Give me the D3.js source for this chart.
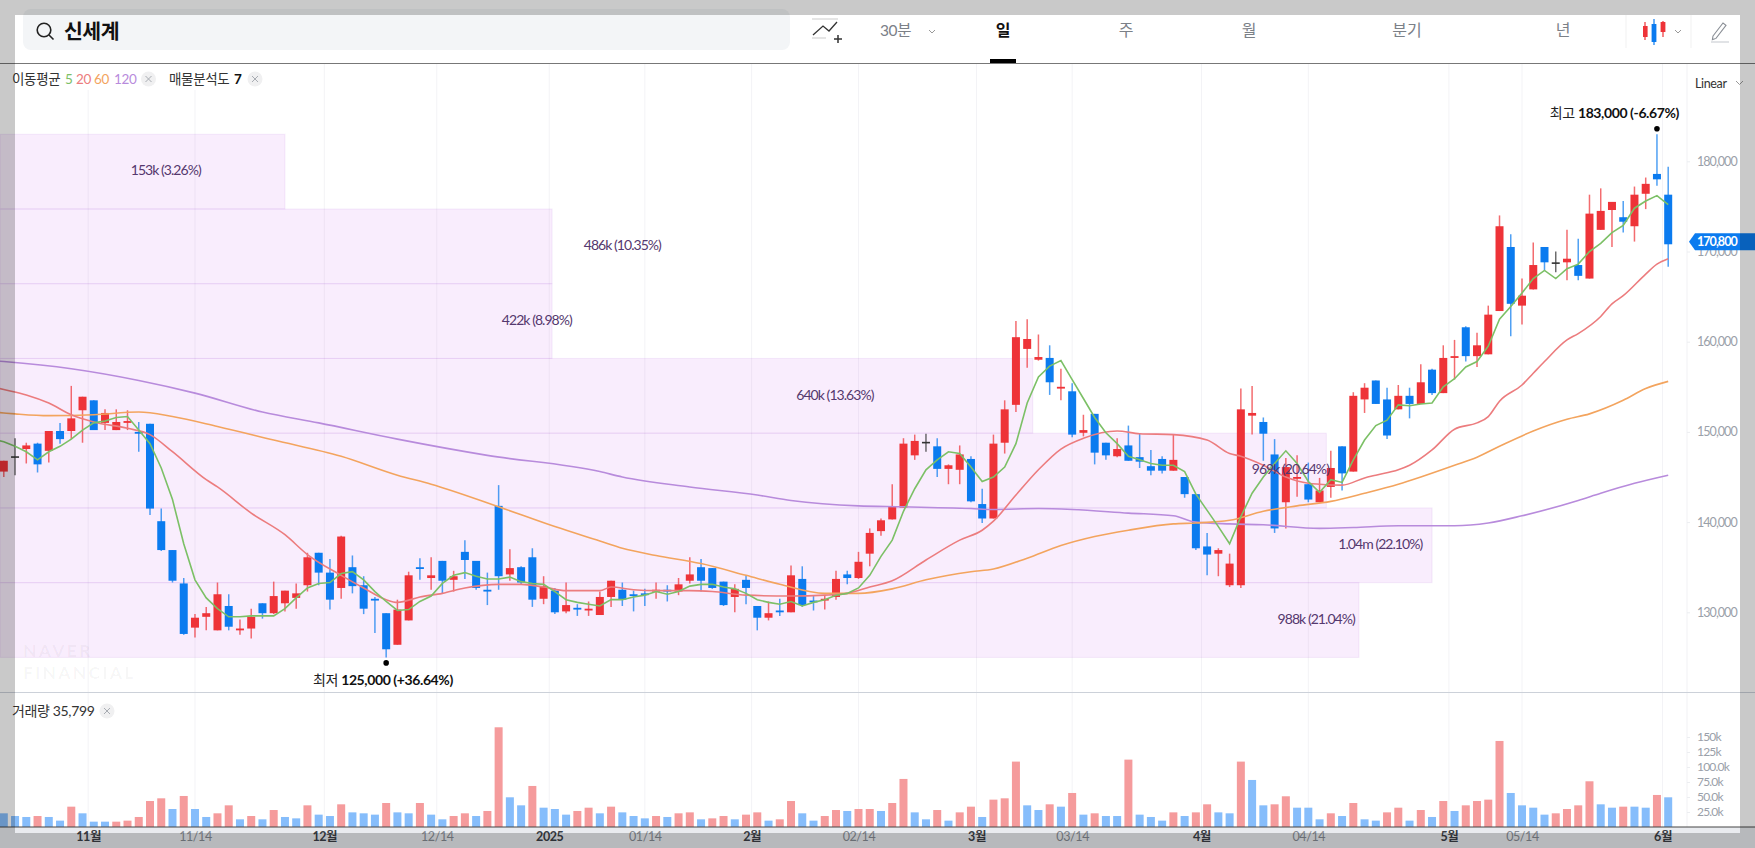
<!DOCTYPE html>
<html><head><meta charset="utf-8"><title>신세계</title>
<script src="https://d3js.org/d3.v7.min.js"></script>
<style>
html,body{margin:0;padding:0;background:#fff;overflow:hidden}
svg{display:block}
text{font-family:Lato,"Noto Sans CJK KR",sans-serif}
</style></head><body>
<svg id="c" width="1755" height="848"></svg>
<script>
const opens=[145600,147300,148100,148700,147900,150100,150100,152400,153500,151000,
150200,151000,150000,150900,140100,136900,133200,128300,129500,128000,
130700,128000,128200,131000,129900,131000,131600,133000,136600,134400,
132700,135000,133000,131500,129900,126400,129100,135000,133800,135700,
133600,136700,135700,132500,141800,134200,135000,136100,131500,132400,
130100,130500,130200,129700,131700,132500,132000,132100,132300,132500,
132300,133500,135000,134900,133400,131700,133600,130700,129400,130200,
130000,133700,131300,131300,131700,134200,133800,136500,139000,140300,
141600,147400,148900,148400,145900,145800,147000,142000,140400,148800,
153000,159200,158000,158200,154800,154500,149900,152000,148800,147300,
148500,147200,146200,147000,145700,145000,143100,137300,136500,133000,
133000,151800,151100,147500,142200,144800,144200,142200,143900,148400,
145600,153600,155700,153600,152500,154000,153100,156900,154300,158200,
161600,158400,158600,163400,170500,164000,165800,170500,168800,168800,
168500,167000,172400,174600,173800,172800,176400,178600,176300];
const highs=[146800,149300,148800,148800,150100,151000,155100,153900,153500,152500,
152500,152400,151100,150900,141500,136900,133800,129800,130600,133300,
132000,129200,130400,131000,133400,132400,133200,136600,136600,135900,
138500,136300,134000,131700,129900,131400,134500,136000,136100,135700,
134600,138000,135700,134400,144100,137000,135100,137100,134000,132700,
133300,130900,131200,132300,133500,133300,132400,132600,133300,133000,
133800,136100,135900,134900,133400,133100,134100,130700,131200,131500,
135200,135100,131800,131900,134600,134600,136700,139300,140400,144200,
149300,149700,149800,149300,146400,148500,147300,143700,149700,153500,
162300,162500,160800,159600,157000,155400,151900,152000,148800,149300,
150700,149800,148000,147300,149700,145000,143100,138800,137100,136500,
154800,155100,151600,149200,147100,147400,146600,144900,147900,148400,
154400,155400,155700,154900,155200,154900,157500,157000,159600,160200,
161700,161000,164000,174000,171900,167000,171000,170500,170000,172400,
171400,176300,177000,175500,175600,177200,178200,183000,179400];
const lows=[145000,145200,146500,145500,146600,148700,149200,148800,150200,150200,
150200,150200,147800,140800,136800,133300,127500,127200,128000,128000,
128000,127500,127100,129300,129800,130100,130400,132300,133000,130300,
131500,132100,129800,127700,125000,126400,129100,133600,132500,132100,
132300,133700,132500,130800,132500,133500,133100,130600,130900,129800,
129900,129600,129600,129700,130600,130700,130100,130700,131500,131200,
131900,133200,132300,132600,130700,130000,130900,128000,129100,129600,
130000,130600,130200,130300,131400,133100,133700,135100,138500,140300,
141600,146900,147800,145000,144200,144200,142200,139900,140400,147600,
152200,157100,157900,154100,153500,149400,149500,146400,146900,147200,
146800,146000,145200,145400,145700,142700,136900,134100,134000,132800,
132700,149700,146800,138800,139300,142800,142200,142200,142700,143500,
145600,152100,153100,149200,152500,151500,153100,154100,154300,155800,
157800,157200,158600,163400,160600,161900,165800,167900,167700,166800,
166800,167000,172400,170500,172100,171100,174700,177300,168300];
const closes=[146800,147300,148500,146400,150100,149200,151500,153900,150200,152100,
151100,151200,149800,141500,136900,133500,127600,129400,129900,132000,
128400,128200,129500,129900,131800,132400,132100,136100,134400,131400,
138400,132900,130400,131300,125900,130300,134100,134800,134100,133500,
134000,135800,132700,132300,134000,134900,133300,131400,132900,130000,
130800,130300,130400,131700,133500,131400,131800,131900,132500,132300,
133100,134200,133500,132700,130800,132600,132700,129400,129900,130000,
134100,130800,131100,131500,133700,133800,135600,138800,140200,141700,
148700,149000,148900,145900,146300,147500,142300,140400,148700,152500,
160500,160300,158300,155500,155000,149700,150200,147700,147400,148100,
146800,146700,145700,145700,146900,143100,137100,136400,136900,135400,
152500,152100,149800,139300,146100,145000,142500,143500,146000,145400,
154000,154900,153100,149600,154000,153100,155500,154300,158200,158400,
158400,159600,163000,172800,164200,165100,168500,168800,168800,169200,
167300,174200,174500,175500,173300,176300,177500,178000,170800];
const ma5=[149200,148900,148400,147800,146900,147800,148400,149200,150200,151000,151200,
151600,151700,150200,148700,146000,142500,137600,133600,131600,130400,
129500,129500,129600,129600,129600,130400,131600,132700,133200,133300,
134300,134500,133600,132300,131200,130200,130300,131200,131800,133200,
134100,134400,134000,133700,133700,133900,133400,133200,133100,132300,
131400,131100,130900,130700,131400,131400,131700,131900,132300,132000,
132300,132900,133100,133100,132800,132600,132100,131400,131100,130900,
131200,130700,131100,131400,131900,132100,132700,134100,136200,138000,
141200,143700,145800,146900,147800,147600,146100,144500,145000,146100,
148700,153200,156100,157300,157900,155800,153700,151600,149900,148700,
147300,146900,146500,146300,146300,145600,143100,141300,139500,137600,
140600,143200,145000,146500,147900,146500,144500,143300,144700,144400,
146900,149100,150700,151300,153000,152900,153100,153200,155000,155900,
157200,157800,159500,162500,163900,165400,167000,167900,167000,168100,
168600,170000,170900,172100,172900,174800,175600,176200,175200];
const ma20Days=[-1,0,2,4,6,8,11,13,15,18,19,22,25,27,30,32,34,35,37,39,41,44,46,48,50,53,54,56,58,61,63,66,70,73,75,77,79,82,85,87,88,90,92,94,96,99,101,104,107,109,110,112,114,116,117,119,121,122,124,125,127,129,131,132,133,135,136,137,139,140,142,143,144,146,147,148];
const ma20=[155000,154700,154100,153200,151900,151100,150400,149700,147800,144700,143900,141000,138600,136400,134100,132700,131400,131100,131700,132100,132700,133100,133100,132800,132400,132400,132800,132500,132400,132400,132300,131900,131800,131900,132100,132800,133500,135800,138000,139100,140100,143000,145800,148100,149300,150100,149800,149700,149100,147600,147300,146300,145000,144300,144200,144100,144900,145200,145800,146300,148000,150300,151000,151700,153400,155200,156500,157800,160200,160900,162800,164200,165100,167500,168600,169200];
const ma60Days=[-1,0,1,4,8,12,15,19,24,30,35,38,44,49,53,55,58,62,66,69,73,76,79,82,86,88,91,94,97,100,104,106,109,112,115,118,121,124,126,129,131,133,136,139,141,144,146,148];
const ma60=[152200,152100,152000,151800,151900,152200,151700,150600,149100,147300,145200,144200,141700,139500,137900,137100,136300,135400,134100,133100,132100,132100,132600,133600,134500,134800,136000,137400,138400,139100,139800,139900,140200,141200,141800,142300,143200,144200,145000,146300,147200,148400,150100,151400,152000,153500,154800,155600];
const ma120Days=[-1,0,6,12,17,23,28,35,43,53,55,61,67,70,76,80,86,88,92,95,100,104,106,109,112,117,120,124,129,132,135,140,142,145,148];
const ma120=[157900,157800,157000,155700,154300,152200,151000,149200,147400,145600,145000,143900,143000,142400,141800,141700,141500,141400,141500,141400,141000,140700,140000,139800,139700,139300,139400,139600,139600,139900,140700,142400,143200,144300,145200];
const volumes=[22800,18300,16700,18300,16700,10600,33900,22800,8900,8900,
8900,10600,16700,43300,47800,30000,51700,30000,16700,22800,
36100,12800,18300,12800,28300,16700,14400,36100,20600,18300,
37800,24400,22800,20600,40000,24400,22800,40000,20600,12800,
18300,22800,18300,26700,166200,49500,36100,68400,32200,30000,
20600,26700,32200,22800,33900,24400,18300,14400,18300,16700,
22800,24400,12800,14400,18300,12800,20600,24400,10600,12800,
43300,22800,10600,18300,28300,26700,30000,30000,26700,40000,
80100,24400,12800,28300,10600,24400,33900,16700,45600,47800,
109000,36100,28300,37800,33900,56700,20600,22800,18300,18300,
112300,20600,16700,10600,24400,18300,24400,37800,24400,22800,
109000,78400,36100,37800,51200,32200,32200,12800,22800,18300,
40000,12800,10600,24400,32200,10600,28300,16700,43300,26700,
36100,43300,45600,143400,56700,36100,32200,20600,22800,30000,
36100,76200,37800,32200,33900,33900,32200,53400,49500];
const volumeDirs=("dddudduddd"+"uuuuududdu"+"udududdudd"+"uddduddudd"+"uuduuddudd"+
"duududddud"+"uuduuduudu"+"uddu"+"uduudu"+"udduduuduu"+"uddudududd"+
"uddduduudd"+"udduudddud"+"udduududud"+"uuuudddduu"+"uudduddud").split("");
const priceTicks=[130000,140000,150000,160000,170000,180000];
const volumeTicks=[25000,50000,75000,100000,125000,150000];
const volumeTickLabels=["25.0k","50.0k","75.0k","100.0k","125k","150k"];
const dateTickDays=[7.5,17,28.5,38.5,48.5,57,66.5,76,86.5,95,106.5,116,128.5,135,147.5];
const dateTickLabels=["11월","11/14","12월","12/14","2025","01/14","2월","02/14","3월","03/14","4월","04/14","5월","05/14","6월"];
const bandLows=[125000,133286,141571,149857,158143,166429,174714];
const bandHighs=[133286,141571,149857,158143,166429,174714,183000];
const bandEndDays=[120.5,127,117.6,91.5,48.75,48.75,25];
const bandLabels=["988k (21.04%)","1.04m (22.10%)","969k (20.64%)","640k (13.63%)","422k (8.98%)","486k (10.35%)","153k (3.26%)"];
const bandLabelDays=[116.7,122.4,114.4,73.9,47.4,55,14.4];
const periodTabs=["일","주","월","분기","년"];
const maPeriods=["5","20","60","120"];

const RED="#ee3338",BLUE="#0b7bef",VRED="#f59b9c",VBLUE="#86bdfb";
const MA_COLORS=["#7cc066","#ec7c7e","#f3a45e","#b88bdc"];
const svg=d3.select("#c");
const x=d3.scaleLinear().domain([0,148]).range([3.8,1668.2]);
const y=d3.scaleLinear().domain([130000,180000]).range([612.3,161.3]);
const yv=d3.scaleLinear().domain([0,150000]).range([827,737]);
const BW=8;

svg.append("rect").attr("x",0).attr("y",827).attr("width",1755).attr("height",21).attr("fill","#e9ebef");
const g=svg.append("g");
g.selectAll("line.grid").data(dateTickDays).join("line").attr("class","grid")
 .attr("x1",d=>x(d)).attr("x2",d=>x(d)).attr("y1",63).attr("y2",827).attr("stroke","#f3f3f6").attr("stroke-width",1);
g.append("line").attr("x1",1687).attr("x2",1687).attr("y1",63).attr("y2",827).attr("stroke","#f1f1f4");

svg.append("g").selectAll("rect").data(bandLows).join("rect")
 .attr("x",0).attr("width",(d,i)=>x(bandEndDays[i]))
 .attr("y",(d,i)=>y(bandHighs[i])).attr("height",(d,i)=>y(d)-y(bandHighs[i]))
 .attr("fill","#c050f0").attr("fill-opacity",.1).attr("stroke","#a050d0").attr("stroke-opacity",.1);

svg.append("rect").attr("x",0).attr("y",64).attr("width",280).attr("height",26).attr("fill","#fff");

svg.append("g").selectAll("rect").data(volumes).join("rect")
 .attr("x",(d,i)=>x(i)-BW/2).attr("width",BW)
 .attr("y",d=>yv(d)).attr("height",d=>yv(0)-yv(d))
 .attr("fill",(d,i)=>volumeDirs[i]==="u"?VRED:VBLUE);

const col=i=>closes[i]>opens[i]?RED:closes[i]<opens[i]?BLUE:"#333";
const candles=svg.append("g");
candles.selectAll("line").data(closes).join("line")
 .attr("x1",(d,i)=>x(i)).attr("x2",(d,i)=>x(i))
 .attr("y1",(d,i)=>y(highs[i])).attr("y2",(d,i)=>y(lows[i]))
 .attr("stroke",(d,i)=>col(i)).attr("stroke-width",1.5).attr("stroke-opacity",.72);
candles.selectAll("rect").data(closes).join("rect")
 .attr("x",(d,i)=>x(i)-BW/2).attr("width",BW)
 .attr("y",(d,i)=>y(Math.max(opens[i],closes[i])))
 .attr("height",(d,i)=>Math.max(1.6,Math.abs(y(opens[i])-y(closes[i]))))
 .attr("fill",(d,i)=>col(i));

const line=d3.line().x(d=>x(d[0])).y(d=>y(d[1]));
const smooth=d3.line().x(d=>x(d[0])).y(d=>y(d[1])).curve(d3.curveMonotoneX);
const mg=svg.append("g").attr("fill","none").attr("stroke-width",1.6);
mg.append("path").attr("d",smooth(ma120Days.map((d,i)=>[d,ma120[i]]))).attr("stroke",MA_COLORS[3]);
mg.append("path").attr("d",smooth(ma60Days.map((d,i)=>[d,ma60[i]]))).attr("stroke",MA_COLORS[2]);
mg.append("path").attr("d",smooth(ma20Days.map((d,i)=>[d,ma20[i]]))).attr("stroke",MA_COLORS[1]);
mg.append("path").attr("d",line(ma5.map((d,i)=>[i-1,d]))).attr("stroke",MA_COLORS[0]);

svg.append("g").selectAll("text").data(bandLabels).join("text")
 .attr("x",(d,i)=>x(bandLabelDays[i]))
 .attr("y",(d,i)=>y((bandLows[i]+bandHighs[i])/2)+3.8)
 .attr("text-anchor","middle").attr("font-size",14).attr("letter-spacing",-.95).attr("fill","#55386e").text(d=>d);

const wm=svg.append("text").attr("font-size",17.5).attr("font-weight",900).attr("letter-spacing",2.2).attr("fill","#000").attr("fill-opacity",.035);
wm.append("tspan").attr("x",23).attr("y",657).text("NAVER");
wm.append("tspan").attr("x",23).attr("y",678.5).text("FINANCIAL");

const iHi=highs.indexOf(d3.max(highs)),iLo=lows.indexOf(d3.min(lows));
svg.append("circle").attr("cx",x(iHi)).attr("cy",y(highs[iHi])-5.5).attr("r",2.8).attr("fill","#000");
svg.append("circle").attr("cx",x(iLo)).attr("cy",y(lows[iLo])+5.5).attr("r",2.8).attr("fill","#000");
function hilo(px,py,anchor,a,b){
 const t=svg.append("text").attr("x",px).attr("y",py).attr("text-anchor",anchor).attr("font-size",14).attr("letter-spacing",-.4).attr("fill","#222");
 t.append("tspan").text(a+" ");
 t.append("tspan").attr("font-weight",700).attr("fill","#111").text(b);
}
hilo(1679,118,"end","최고","183,000 (-6.67%)");
hilo(313,684.5,"start","최저","125,000 (+36.64%)");

const yAxis=d3.axisRight(y).tickValues(priceTicks).tickFormat(d3.format(",")).tickSize(3).tickPadding(7);
const ya=svg.append("g").attr("transform","translate(1687,0)").call(yAxis);
ya.select(".domain").remove();
ya.selectAll("line").attr("stroke","#eceef1");
ya.selectAll("text").attr("fill","#9aa0a9").attr("font-size",12.5).attr("letter-spacing",-.95).style("font-family","Lato,sans-serif");

const yvAxis=d3.axisRight(yv).tickValues(volumeTicks).tickFormat((d,i)=>volumeTickLabels[i]).tickSize(3).tickPadding(7);
const yva=svg.append("g").attr("transform","translate(1687,0)").call(yvAxis);
yva.select(".domain").remove();
yva.selectAll("line").attr("stroke","#eceef1");
yva.selectAll("text").attr("fill","#9aa0a9").attr("font-size",12).attr("letter-spacing",-.8).style("font-family","Lato,sans-serif");

const ty=y(closes[148])-2.6;
svg.append("path").attr("d",`M1689 ${ty} L1695 ${ty-8.5} H1755 V${ty+8.5} H1695 Z`).attr("fill",BLUE);
svg.append("text").attr("x",1697).attr("y",ty+4.3).attr("font-size",12.5).attr("font-weight",700).attr("letter-spacing",-.95).attr("fill","#fff").text(d3.format(",")(closes[148]));

const xAxis=d3.axisBottom(x).tickValues(dateTickDays).tickFormat((d,i)=>dateTickLabels[i]).tickSize(0).tickPadding(5);
const xa=svg.append("g").attr("transform","translate(0,827)").call(xAxis);
xa.select(".domain").remove();
xa.selectAll("text").attr("font-size",12.5).attr("letter-spacing",-.4)
 .style("font-family",'Lato,"Noto Sans CJK KR",sans-serif')
 .attr("font-weight",(d,i)=>/월|2025/.test(dateTickLabels[i])?700:400)
 .attr("fill",(d,i)=>/월|2025/.test(dateTickLabels[i])?"#3b3f46":"#868b93");

svg.append("line").attr("x1",0).attr("x2",1755).attr("y1",827).attr("y2",827).attr("stroke","#444").attr("stroke-width",1);
svg.append("line").attr("x1",0).attr("x2",1755).attr("y1",692.5).attr("y2",692.5).attr("stroke","#ccd1d9").attr("stroke-width",1.2);
svg.append("line").attr("x1",0).attr("x2",1755).attr("y1",63.5).attr("y2",63.5).attr("stroke","#777").attr("stroke-width",1.2);

function chip(cx,cy){
 const c=svg.append("g").attr("transform",`translate(${cx},${cy})`);
 c.append("circle").attr("r",7.5).attr("fill","#f0f0f1");
 c.append("path").attr("d","M-3 -3L3 3M3 -3L-3 3").attr("stroke","#a8acb2").attr("stroke-width",1);
}
const L=(px,py,t,c,w,fs)=>svg.append("text").attr("x",px).attr("y",py).attr("font-size",fs||13.5).attr("letter-spacing",-.35).attr("font-weight",w||400).attr("fill",c).text(t);
L(12,84,"이동평균","#333");
[65,76,94,114].forEach((px,i)=>L(px,84,maPeriods[i],MA_COLORS[i]));
chip(148.5,79);
L(169,84,"매물분석도","#333");
L(234,84,"7","#111",700);
chip(255,79);
L(12,716,"거래량 35,799","#333",400,14);
chip(107,711);
L(1695,87.5,"Linear","#333",400,12.5);
svg.append("path").attr("d","M1736 81l3.5 3.5l3.5 -3.5").attr("fill","none").attr("stroke","#999");

svg.append("rect").attr("x",23).attr("y",9).attr("width",767).attr("height",41).attr("rx",8).attr("fill","#f3f5f7");
svg.append("circle").attr("cx",44).attr("cy",30).attr("r",6.8).attr("fill","none").attr("stroke","#222").attr("stroke-width",1.6);
svg.append("line").attr("x1",49).attr("y1",35).attr("x2",53.5).attr("y2",39.5).attr("stroke","#222").attr("stroke-width",1.6);
svg.append("text").attr("x",64).attr("y",39).attr("font-size",20.5).attr("font-weight",700).attr("fill","#111").attr("letter-spacing",-.5).style("font-family","'Noto Sans CJK KR'").text("신세계");
const tabX=[1003,1126,1249,1407,1563];
svg.append("g").selectAll("text").data(periodTabs).join("text").attr("x",(d,i)=>tabX[i]).attr("y",36).attr("text-anchor","middle")
 .attr("font-size",16).attr("font-weight",(d,i)=>i?400:700).attr("fill",(d,i)=>i?"#7b8087":"#111").style("font-family","'Noto Sans CJK KR'").text(d=>d);
svg.append("rect").attr("x",990).attr("y",59).attr("width",26).attr("height",4).attr("fill","#000");
svg.append("text").attr("x",880).attr("y",36).attr("font-size",15.5).attr("fill","#7b8087").attr("letter-spacing",-.4).style("font-family","Lato,'Noto Sans CJK KR'").text("30분");
svg.append("path").attr("d","M929 30l3 3l3 -3").attr("fill","none").attr("stroke","#999");
svg.append("path").attr("d","M812 19h26M812 38h14").attr("stroke","#ccc").attr("stroke-width",1.2);
svg.append("path").attr("d","M813 35l10 -9l6 5l8 -9").attr("fill","none").attr("stroke","#333").attr("stroke-width",1.3);
svg.append("path").attr("d","M834 39h8M838 35v8").attr("stroke","#333").attr("stroke-width",1.5);
svg.append("path").attr("d","M1645 22v18").attr("stroke",RED).attr("stroke-width",1.2);
svg.append("rect").attr("x",1643).attr("y",26).attr("width",4.6).attr("height",11).attr("fill",RED);
svg.append("path").attr("d","M1654 19v26").attr("stroke",BLUE).attr("stroke-width",1.2);
svg.append("rect").attr("x",1651.6).attr("y",24).attr("width",4.8).attr("height",18).attr("fill",BLUE);
svg.append("path").attr("d","M1663 21v16").attr("stroke",RED).attr("stroke-width",1.2);
svg.append("rect").attr("x",1660.6).attr("y",22).attr("width",4.8).attr("height",10).attr("fill",RED);
svg.append("path").attr("d","M1675 30l3 3l3 -3").attr("fill","none").attr("stroke","#999");
svg.append("path").attr("d","M1626 15v33M1691 15v33").attr("stroke","#f1f1f1");
svg.append("path").attr("d","M1713 36l10 -13l3 2.4l-10 13l-3.6 1.2z").attr("fill","none").attr("stroke","#8a8f96").attr("stroke-width",1.1);
svg.append("path").attr("d","M1711 42h18").attr("stroke","#c9ccd1").attr("stroke-width",1.1);

const frame=svg.append("g").attr("fill","#000").attr("fill-opacity",.21);
frame.append("rect").attr("x",0).attr("y",0).attr("width",1755).attr("height",15);
frame.append("rect").attr("x",0).attr("y",833).attr("width",1755).attr("height",15);
frame.append("rect").attr("x",0).attr("y",15).attr("width",15).attr("height",818);
frame.append("rect").attr("x",1740).attr("y",15).attr("width",15).attr("height",818);
</script></body></html>
